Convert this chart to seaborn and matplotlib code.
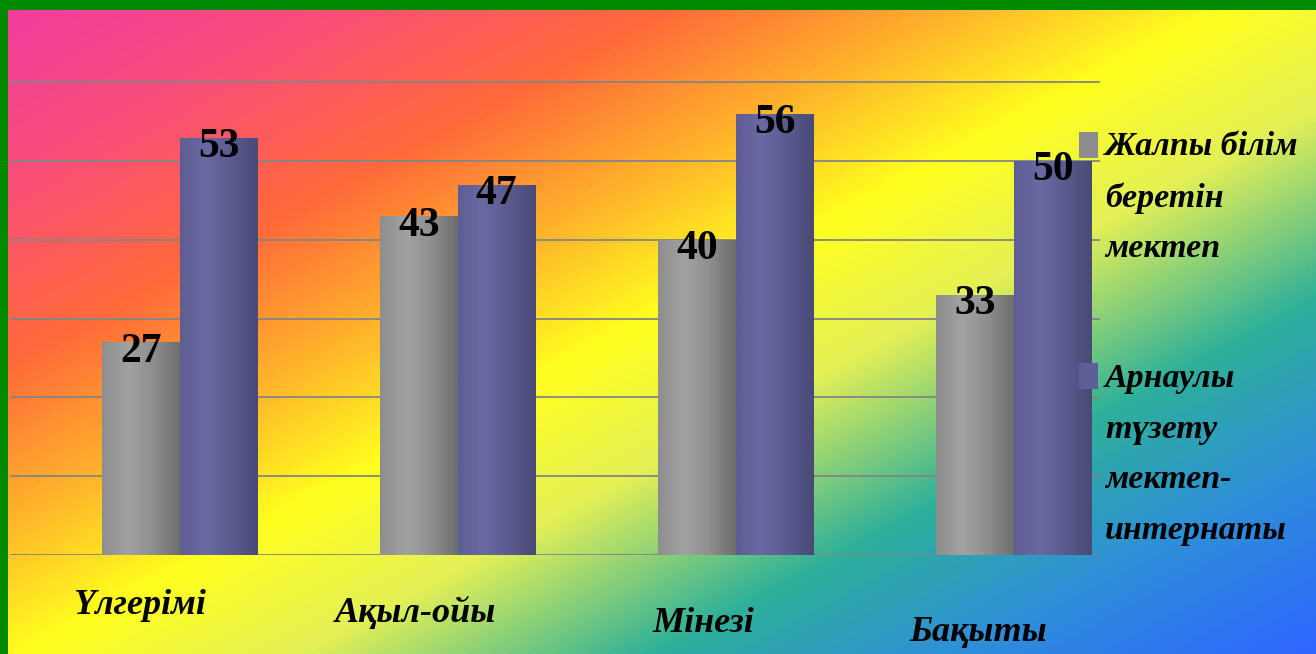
import numpy as np
import pandas as pd
import seaborn as sns
import matplotlib
matplotlib.use("Agg")
import matplotlib.pyplot as plt
from matplotlib.colors import LinearSegmentedColormap
from matplotlib.patches import Rectangle
from matplotlib.legend_handler import HandlerBase
from matplotlib.transforms import ScaledTranslation

# ---------------- data ----------------
categories = ["Үлгерімі", "Ақыл-ойы", "Мінезі", "Бақыты"]
series_names = ["Жалпы білім\nберетін\nмектеп",
                "Арнаулы\nтүзету\nмектеп-\nинтернаты"]
general_school = [27, 43, 40, 33]
special_school = [53, 47, 56, 50]
grid_values = [0, 10, 20, 30, 40, 50, 60]

df = pd.DataFrame({
    "category": categories * 2,
    "series": [series_names[0]] * len(categories) + [series_names[1]] * len(categories),
    "value": general_school + special_school,
})

# ---------------- style ----------------
sns.set_theme(style="white")
plt.rcParams["font.family"] = ["Liberation Serif", "DejaVu Serif"]
plt.rcParams["text.color"] = "black"
plt.rcParams["xtick.color"] = "black"
plt.rcParams["xtick.labelcolor"] = "black"

W, H = 1316, 654
fig = plt.figure(figsize=(W / 100, H / 100), dpi=100)

# background gradient (decoration)
bg = fig.add_axes([0, 0, 1, 1], zorder=0)
xx, yy = np.meshgrid(np.linspace(0, W, 400), np.linspace(0, H, 200))
tt = (xx + 1.86 * yy) / (W + 1.86 * H)
bg_cmap = LinearSegmentedColormap.from_list(
    "bg", [(0.0, "#f03ca0"), (0.14, "#fa4f78"), (0.27, "#ff6a3a"),
           (0.38, "#ffb02c"), (0.49, "#ffff1e"), (0.60, "#e4f056"),
           (0.74, "#2fb09a"), (0.86, "#2e8fd8"), (1.0, "#2f66ff")])
bg.imshow(tt, cmap=bg_cmap, extent=[0, W, H, 0], aspect="auto",
          interpolation="bilinear")
bg.add_patch(Rectangle((0, 0), W, 10, color="#008a00", lw=0))
bg.add_patch(Rectangle((0, 0), 8, H, color="#008a00", lw=0))
bg.set_xlim(0, W)
bg.set_ylim(H, 0)
bg.axis("off")

# main axes
base_px, top_px, left_px, right_px = 555, 80, 10, 1100
ax = fig.add_axes([left_px / W, 1 - base_px / H,
                   (right_px - left_px) / W, (base_px - top_px) / H], zorder=1)
ax.patch.set_alpha(0)

colors = ["#8c8c8c", "#5f5f98"]
sns.barplot(data=df, x="category", y="value", hue="series",
            palette=colors, width=0.56, saturation=1, ax=ax, legend=False,
            edgecolor="none", linewidth=0, zorder=2)

# cylinder-like shading on bars
shade_maps = [
    LinearSegmentedColormap.from_list("g", ["#8e8e8e", "#a2a2a2", "#8e8e8e", "#6e6e6e"]),
    LinearSegmentedColormap.from_list("p", ["#5e5e94", "#6a6aa4", "#5a5a8e", "#4a4a76"]),
]
grad = np.linspace(0, 1, 64).reshape(1, -1)
for cont, cm in zip(ax.containers, shade_maps):
    for bar in cont:
        x0, w, h = bar.get_x(), bar.get_width(), bar.get_height()
        im = ax.imshow(grad, cmap=cm, extent=[x0, x0 + w, 0, h], aspect="auto",
                       interpolation="bilinear", zorder=2.1)
        im.set_clip_path(bar)

# value labels
for cont in ax.containers:
    for bar in cont:
        h = bar.get_height()
        ax.annotate(f"{h:.0f}", xy=(bar.get_x() + bar.get_width() / 2, h),
                    xytext=(0, 7), textcoords="offset points",
                    ha="center", va="top", fontsize=30, fontweight="bold",
                    color="black", zorder=5)

ax.set_xlim(-0.61, 3.31)
ax.set_ylim(0, 60.3)
ax.set_yticks(grid_values)
ax.yaxis.grid(True, color="#858585", lw=1.3)
ax.set_axisbelow(True)
ax.tick_params(axis="y", length=0, labelleft=False)
ax.set_xlabel("")
ax.set_ylabel("")
sns.despine(ax=ax, left=True, bottom=True)

ax.set_xticks(range(len(categories)))
ax.set_xticklabels(categories, fontsize=26, fontweight="bold",
                   fontstyle="italic", color="black")
ax.tick_params(axis="x", length=0, pad=0, labelcolor="black")
label_dx = [-40, -42, -32, -36]
label_cy = [606, 613, 623, 632]
for lab, dx, cy in zip(ax.get_xticklabels(), label_dx, label_cy):
    lab.set_va("center")
    lab.set_transform(lab.get_transform() +
                      ScaledTranslation(dx / 100, -(cy - base_px) / 100,
                                        fig.dpi_scale_trans))


# legend with squares aligned to the first text line
class TopAlignedHandler(HandlerBase):
    def __init__(self, lift):
        super().__init__()
        self.lift = lift

    def create_artists(self, legend, orig_handle, xdescent, ydescent,
                       width, height, fontsize, trans):
        r = Rectangle((-xdescent, -ydescent + self.lift), width, height,
                      facecolor=orig_handle.get_facecolor(), edgecolor="none",
                      transform=trans)
        return [r]


step_pt = 37
handles = [cont[0] for cont in ax.containers]
hmap = {hd: TopAlignedHandler(name.count("\n") / 2 * step_pt + 1)
        for hd, name in zip(handles, series_names)}
leg = fig.legend(handles, series_names, loc="upper left",
                 bbox_to_anchor=(1079 / W, 1 - 131 / H), frameon=False,
                 borderpad=0, borderaxespad=0, handlelength=0.55,
                 handleheight=0.8, handletextpad=0.22, labelspacing=2.9,
                 handler_map=hmap,
                 prop={"family": ["Liberation Serif", "DejaVu Serif"],
                       "size": 24.5, "weight": "bold", "style": "italic"})
for t in leg.get_texts():
    t.set_linespacing(1.82)
    t.set_color("black")
leg.set_zorder(6)

fig.savefig("out.png", dpi=100)
